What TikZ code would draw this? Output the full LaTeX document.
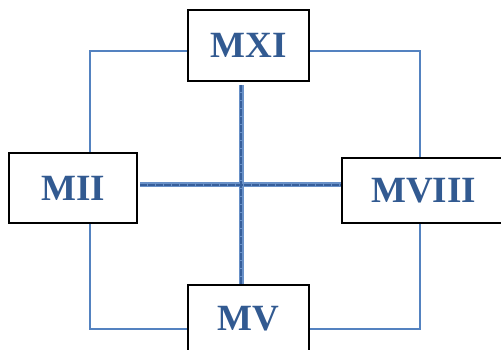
\documentclass[tikz,border=0pt]{standalone}
\usepackage{fontspec}
\setmainfont{Liberation Serif}
\definecolor{txtblue}{RGB}{50,90,145}
\definecolor{lineblue}{RGB}{84,130,192}
\definecolor{crossout}{RGB}{105,145,200}
\definecolor{crossin}{RGB}{55,95,155}
\begin{document}
\begin{tikzpicture}[x=1pt,y=-1pt,
  box/.style={draw=black,line width=1.8pt,inner sep=0pt,
    font=\fontsize{37}{37}\selectfont\bfseries,text=txtblue},
  link/.style={draw=lineblue,line width=1.6pt},
  crossouter/.style={draw=crossout,line width=5pt},
  crossinner/.style={draw=crossin,line width=2.2pt,dash pattern=on 7pt off 1pt}]
\useasboundingbox (0,0) rectangle (501,350);
\coordinate (tl) at (90,51);
\coordinate (tr) at (420,51);
\coordinate (bl) at (90,329);
\coordinate (br) at (420,329);
\coordinate (vtop) at (241,85);
\coordinate (hleft) at (140,185);
\node[box,minimum width=121pt,minimum height=71pt] (MXI) at (248.5,45.5) {MXI};
\node[box,minimum width=128pt,minimum height=70pt] (MII) at (73,188) {MII};
\node[box,minimum width=163pt,minimum height=65pt] (MVIII) at (423.5,190.5) {MVIII};
\node[box,minimum width=121pt,minimum height=68pt] (MV) at (248.5,319) {MV};
\draw[link] (MXI.west |- tl) -- (tl) -- (tl |- MII.north);
\draw[link] (tl |- MII.south) -- (bl) -- (bl -| MV.west);
\draw[link] (MXI.east |- tr) -- (tr) -- (tr |- MVIII.north);
\draw[link] (tr |- MVIII.south) -- (br) -- (br -| MV.east);
\draw[crossouter] (vtop) -- (vtop |- MV.north);
\draw[crossouter] (hleft) -- (hleft -| MVIII.west);
\draw[crossinner] (vtop) -- (vtop |- MV.north);
\draw[crossinner] (hleft) -- (hleft -| MVIII.west);
\end{tikzpicture}
\end{document}
